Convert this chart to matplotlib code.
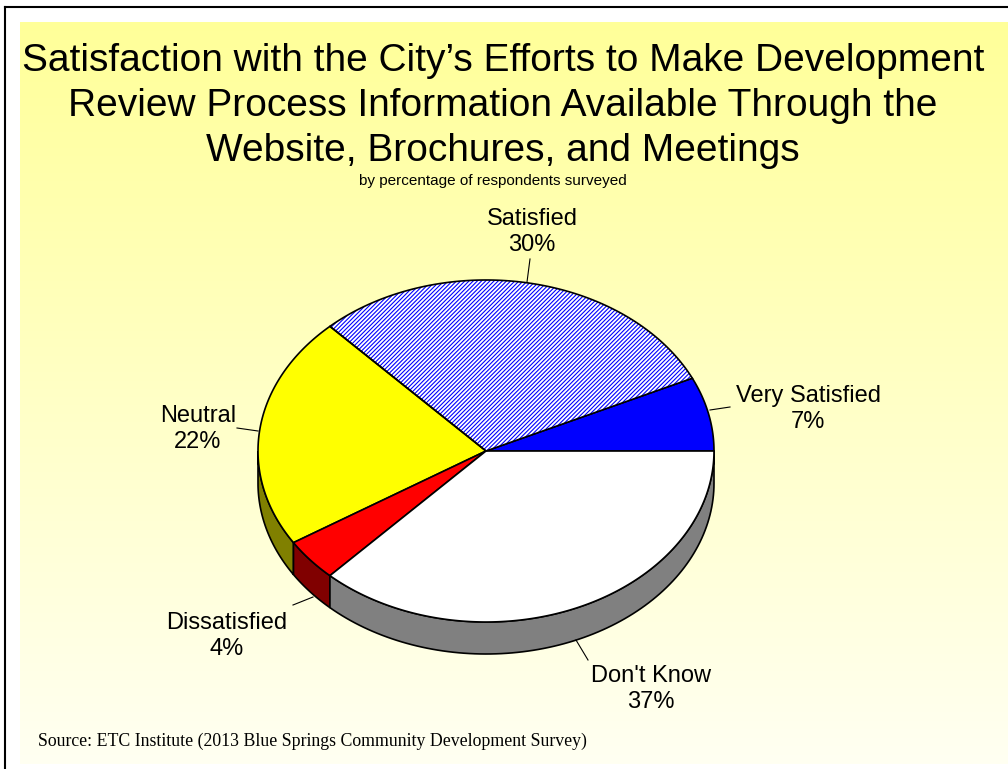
import numpy as np
import matplotlib
matplotlib.use("Agg")
import matplotlib.pyplot as plt
from matplotlib.patches import Polygon

# --- data ---
labels = ["Very Satisfied", "Satisfied", "Neutral", "Dissatisfied", "Don't Know"]
shares = [7, 30, 22, 4, 37]
top_colors = ["#0000FF", "#FFFFFF", "#FFFF00", "#FF0000", "#FFFFFF"]
side_colors = ["#000080", "#8080C0", "#808000", "#800000", "#808080"]
hatches = [None, "////////", None, None, None]

title = ("Satisfaction with the City\u2019s Efforts to Make Development\n"
         "Review Process Information Available Through the\n"
         "Website, Brochures, and Meetings")
subtitle = "by percentage of respondents surveyed"
source = "Source: ETC Institute (2013 Blue Springs Community Development Survey)"

# --- layout (pixel coords, y down) ---
W, H = 1008, 769
cx, cy, rx, ry, depth = 486, 451, 228, 171, 32
label_xy = [(808, 409), (532, 232), (198, 429), (227, 636), (651, 689)]
leader = [((710, 410), (730, 407)), ((527, 282), (530, 259)),
          ((258, 431), (237, 428)), ((313, 597), (293, 605)),
          ((576, 640), (588, 660))]

plt.rcParams["font.family"] = ["Liberation Sans", "DejaVu Sans"]
plt.rcParams["hatch.linewidth"] = 0.8

fig = plt.figure(figsize=(W / 100, H / 100), dpi=100)
ax = fig.add_axes([0, 0, 1, 1])
ax.set_xlim(0, W)
ax.set_ylim(H, 0)
ax.axis("off")

# background gradient
top = np.array([255, 255, 153]) / 255
bot = np.array([255, 255, 242]) / 255
t = np.linspace(0, 1, 256)[:, None]
grad = (top * (1 - t) + bot * t)[:, None, :]
ax.imshow(grad, extent=[20, W, 764, 22], aspect="auto", zorder=0)

# frame lines
ax.plot([5, W], [7, 7], color="black", lw=1.5, zorder=1)
ax.plot([5, 5], [7, H], color="black", lw=1.5, zorder=1)


def ell(a, dy=0):
    a = np.radians(a)
    return np.column_stack([cx + rx * np.cos(a), cy - ry * np.sin(a) + dy])


bounds = np.concatenate([[0], np.cumsum(shares)]) / sum(shares) * 360

# side faces (front half only)
for i in range(len(shares)):
    a0, a1 = max(bounds[i], 180), min(bounds[i + 1], 360)
    if a1 <= a0:
        continue
    arc = np.linspace(a0, a1, 100)
    pts = np.vstack([ell(arc), ell(arc[::-1], depth)])
    ax.add_patch(Polygon(pts, closed=True, facecolor=side_colors[i],
                         edgecolor="black", lw=1.2, zorder=2))

# top faces
for i in range(len(shares)):
    arc = np.linspace(bounds[i], bounds[i + 1], 200)
    pts = np.vstack([[cx, cy], ell(arc)])
    if hatches[i]:
        ax.add_patch(Polygon(pts, closed=True, facecolor="white",
                             edgecolor="#0000FF", hatch=hatches[i], lw=0, zorder=3))
        ax.add_patch(Polygon(pts, closed=True, facecolor="none",
                             edgecolor="black", lw=1.2, zorder=4))
    else:
        ax.add_patch(Polygon(pts, closed=True, facecolor=top_colors[i],
                             edgecolor="black", lw=1.2, zorder=3))

# labels and leader lines
for i, name in enumerate(labels):
    (x0, y0), (x1, y1) = leader[i]
    ax.plot([x0, x1], [y0, y1], color="black", lw=0.8, zorder=5)
    ax.text(label_xy[i][0], label_xy[i][1], f"{name}\n{shares[i]}%",
            ha="center", va="center", fontsize=17, linespacing=1.2, zorder=5)

ax.text(503, 106, title, ha="center", va="center", fontsize=28, linespacing=1.33)
ax.text(493, 181, subtitle, ha="center", va="center", fontsize=11)
ax.text(38, 741, source, ha="left", va="center", fontsize=12.8,
        family=["Liberation Serif", "DejaVu Serif"])

fig.savefig("out.png", dpi=100)
